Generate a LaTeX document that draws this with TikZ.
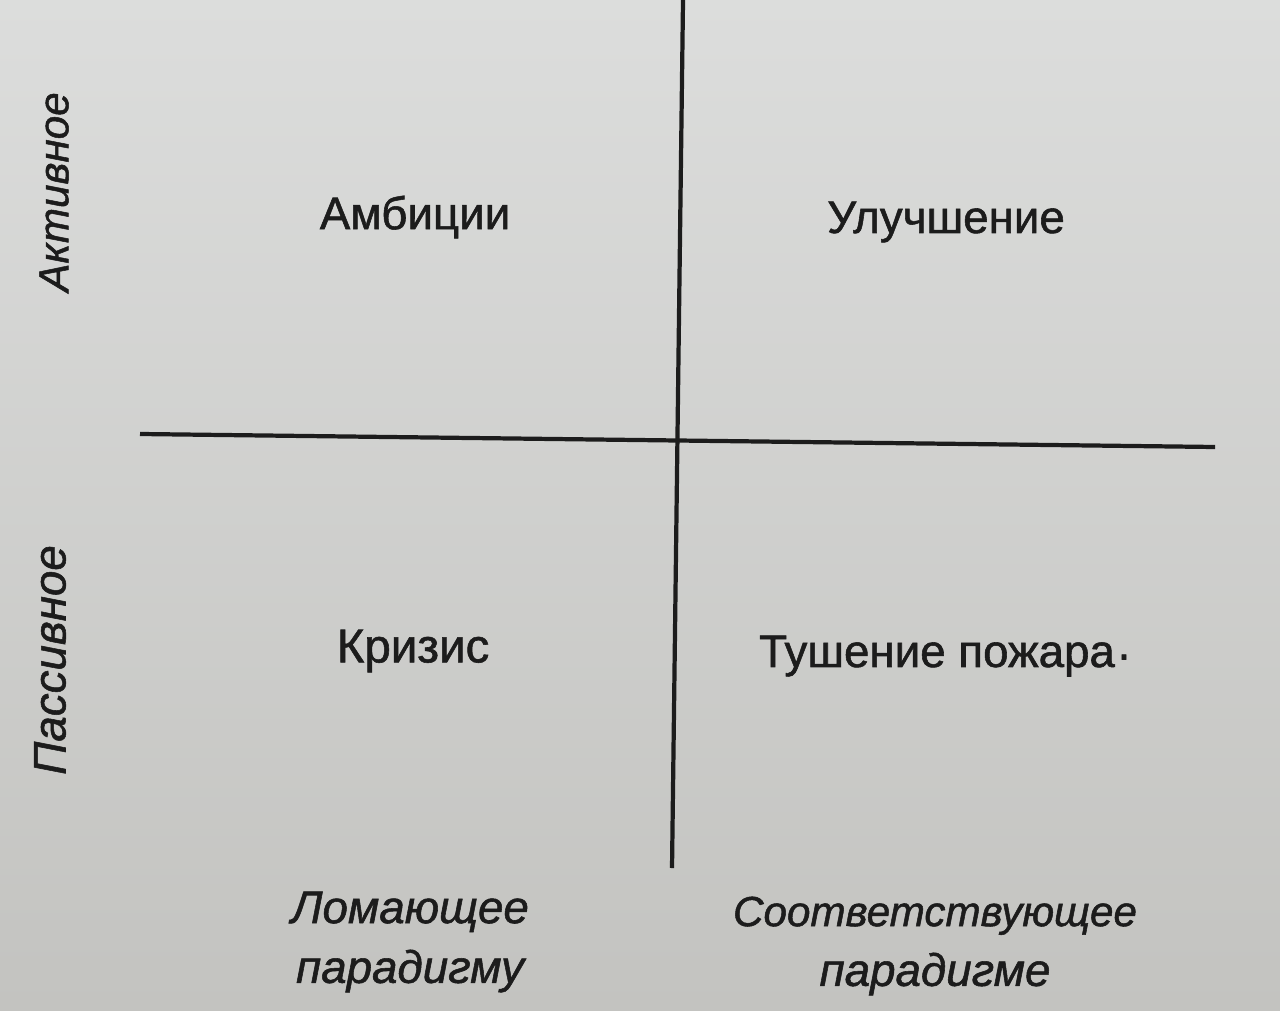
\documentclass[tikz,border=0pt]{standalone}
\usepackage{fontspec}
\setmainfont[FakeBold=1.2]{Liberation Sans}
\usetikzlibrary{positioning}
\definecolor{paperlight}{HTML}{DCDDDC}
\definecolor{paperdark}{HTML}{C3C3C0}
\definecolor{inkgray}{HTML}{1C1C1C}
\tikzset{
  axisline/.style={line width=1.2pt, color=inkgray},
  quadlabel/.style={text=inkgray, font=\fontsize{13}{17}\selectfont, inner sep=0pt},
  sidelabel/.style={quadlabel, rotate=90, font=\fontsize{13}{17}\itshape},
  baselabel/.style={quadlabel, align=center, font=\fontsize{13}{17}\itshape}
}
\begin{document}
\begin{tikzpicture}[x=0.01cm, y=-0.01cm]

\shade[top color=paperlight, bottom color=paperdark] (0,0) rectangle (1280,1010); % page
\useasboundingbox (0,0) rectangle (1280,1010);

\coordinate (vtop) at (683,0);
\coordinate (vbot) at (672,868);
\coordinate (hleft) at (140,434);
\coordinate (hright) at (1215,447);

\draw[axisline] (vtop) -- (vbot) ; % vertical axis
\draw[axisline] (hleft) -- (hright) ; % horizontal axis

\node[quadlabel] (ambition) at (415,217) {Амбиции};
\node[quadlabel] (improve) at (946,222) {Улучшение};
\node[quadlabel, font=\fontsize{13.5}{17}\selectfont] (crisis) at (413,651) {Кризис};
\node[quadlabel] (firefight) at (937,656) {Тушение пожара};
\node[quadlabel] (firedot) at (1124,662) {·};

\node[sidelabel, font=\fontsize{12}{17}\itshape] (active) at (54,192) {Активное};
\node[sidelabel] (passive) at (50,660) {Пассивное};

\node[baselabel] (breaking) at (410,942) {Ломающее\\парадигму};
\node[baselabel] (fitting) at (935,946) {\fontsize{12}{17}\selectfont Соответствующее\\парадигме};
\end{tikzpicture}
\end{document}
